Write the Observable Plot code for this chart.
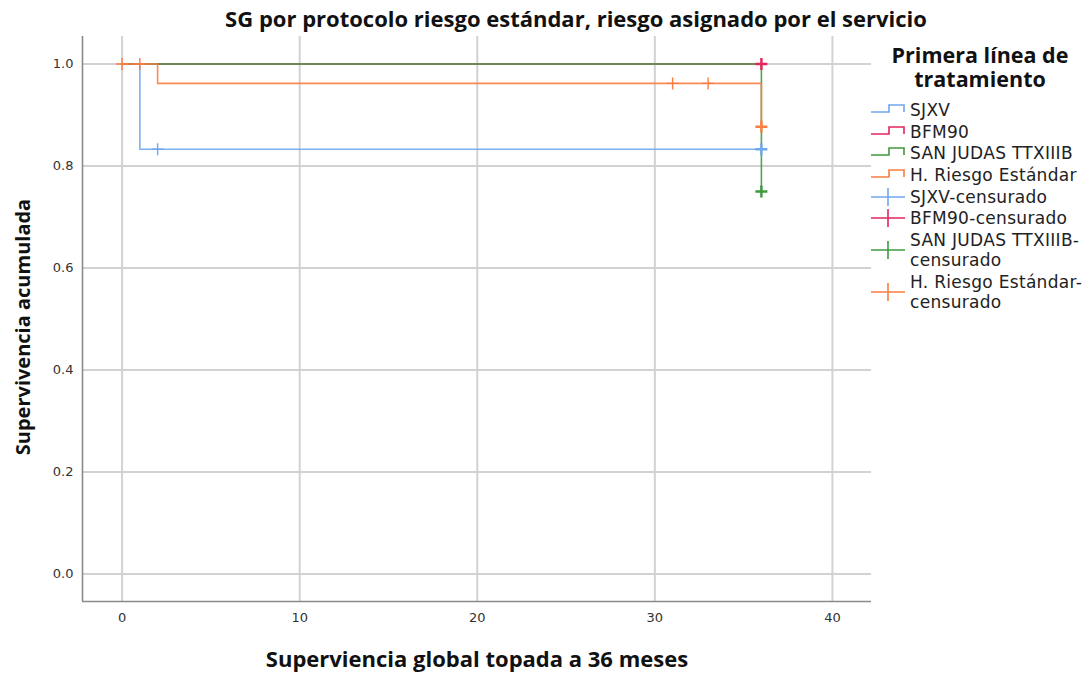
<!DOCTYPE html>
<html>
<head>
<meta charset="utf-8">
<script src="https://cdn.jsdelivr.net/npm/d3@7"></script>
<script src="https://cdn.jsdelivr.net/npm/@observablehq/plot@0.6"></script>
<style>
  html, body { margin: 0; padding: 0; background: #fff; }
  #wrap { position: relative; width: 1086px; height: 673px; overflow: hidden; font-family: "DejaVu Sans", sans-serif; }
  #chart { position: absolute; left: 0; top: 0; }
  .title { position: absolute; left: 576px; top: 3px; transform: translateX(-50%); white-space: nowrap;
           font: bold 22px "Open Sans", "Liberation Sans", Arial, sans-serif; color: #111; }
  .xlabel { position: absolute; left: 477px; top: 643px; transform: translateX(-50%); white-space: nowrap;
            font: bold 22px "Open Sans", "Liberation Sans", Arial, sans-serif; color: #111; }
  .ylabel { position: absolute; left: 22px; top: 327px; transform: translate(-50%, -50%) rotate(-90deg); white-space: nowrap;
            font: bold 20px "Open Sans", "Liberation Sans", Arial, sans-serif; color: #111; }
  .lt { position: absolute; left: 890px; width: 180px; text-align: center; white-space: nowrap;
        font: bold 21.5px "Open Sans", "Liberation Sans", Arial, sans-serif; line-height: 22px; height: 22px; color: #111; }
  #items { position: absolute; top: 100px; left: 870px; display: flex; flex-direction: column; row-gap: 1.7px; }
  #items .item { display: flex; align-items: center; font-family: "DejaVu Sans", sans-serif; font-size: 17px; letter-spacing: 0.3px; line-height: 20px; color: #222; white-space: nowrap; }
  #items .item svg { flex: none; margin-right: 2px; }
</style>
</head>
<body>
<div id="wrap">
  <div id="chart"></div>
  <div class="title">SG por protocolo riesgo estándar, riesgo asignado por el servicio</div>
  <div class="xlabel">Superviencia global topada a 36 meses</div>
  <div class="ylabel">Supervivencia acumulada</div>
  <div class="lt" style="top:44px">Primera línea de</div>
  <div class="lt" style="top:67.5px">tratamiento</div>
  <div id="items"></div>
</div>
<script>
// ---- data ----
const groups = ["SJXV", "BFM90", "SAN JUDAS TTXIIIB", "H. Riesgo Estándar"];
const colors = ["#6fa7ef", "#e5255b", "#3e9a3e", "#fb7d42"];

// step curves (time in months, cumulative survival)
const sjxvTime = [0, 1, 36];
const sjxvSurv = [1, 0.833, 0.833];
const bfmTime = [0, 36];
const bfmSurv = [1, 1];
const sanJudasTime = [0, 36, 36];
const sanJudasSurv = [1, 1, 0.75];
const riesgoTime = [0, 2, 36, 36];
const riesgoSurv = [1, 0.962, 0.962, 0.877];

// censored observations
const sjxvCensTime = [2, 36];
const sjxvCensSurv = [0.833, 0.833];
const bfmCensTime = [36];
const bfmCensSurv = [1];
const sanJudasCensTime = [36];
const sanJudasCensSurv = [0.75];
const riesgoCensTime = [0, 1, 31, 33, 36];
const riesgoCensSurv = [1, 1, 0.962, 0.962, 0.877];

const xTicks = [0, 10, 20, 30, 40];
const yTicks = [0, 0.2, 0.4, 0.6, 0.8, 1.0];
const xDomain = [-2.23, 42.2];
const yDomain = [-0.054, 1.054];

// ---- build tables ----
const times = [sjxvTime, bfmTime, sanJudasTime, riesgoTime];
const survs = [sjxvSurv, bfmSurv, sanJudasSurv, riesgoSurv];
const cTimes = [sjxvCensTime, bfmCensTime, sanJudasCensTime, riesgoCensTime];
const cSurvs = [sjxvCensSurv, bfmCensSurv, sanJudasCensSurv, riesgoCensSurv];

const lines = groups.flatMap((g, i) => times[i].map((t, j) => ({group: g, t, s: survs[i][j]})));
const cens = groups.flatMap((g, i) => cTimes[i].map((t, j) => ({group: g, t, s: cSurvs[i][j]})));

const plus = {
  draw(ctx, size) {
    const r = Math.sqrt(size / Math.PI);
    ctx.moveTo(-r, 0); ctx.lineTo(r, 0);
    ctx.moveTo(0, -r); ctx.lineTo(0, r);
  }
};

const chart = Plot.plot({
  width: 880,
  height: 673,
  marginTop: 36,
  marginBottom: 72,
  marginLeft: 82,
  marginRight: 9,
  style: {fontFamily: "DejaVu Sans, sans-serif", fontSize: "13px", color: "#333", background: "#fff"},
  x: {domain: xDomain, ticks: xTicks},
  y: {domain: yDomain, ticks: yTicks},
  color: {domain: groups, range: colors},
  marks: [
    Plot.gridX(xTicks, {stroke: "#d2d2d2", strokeOpacity: 1, strokeWidth: 2}),
    Plot.gridY(yTicks, {stroke: "#d2d2d2", strokeOpacity: 1, strokeWidth: 2}),
    Plot.axisX(xTicks, {tickSize: 0, tickPadding: 11, label: null, fill: "#333", fontSize: 13}),
    Plot.axisY(yTicks, {tickSize: 0, tickPadding: 9, label: null, tickFormat: d3.format(".1f"), fill: "#333", fontSize: 13}),
    Plot.ruleX([xDomain[0]], {stroke: "#8a8a8a", strokeWidth: 1.6}),
    Plot.ruleY([yDomain[0]], {stroke: "#8a8a8a", strokeWidth: 1.6}),
    Plot.line(lines, {x: "t", y: "s", z: "group", stroke: "group", curve: "step-after", strokeWidth: 1.6, strokeOpacity: 0.9}),
    Plot.dot(cens, {x: "t", y: "s", stroke: "group", fill: "none", symbol: plus, r: 6,
      strokeWidth: d => d.t === 36 ? 2.4 : 1.4})
  ]
});
document.getElementById("chart").appendChild(chart);

// ---- legend ----
const items = document.getElementById("items");
const stepIcon = c => `<svg width="38" height="20" viewBox="0 0 38 20"><polyline points="1,12 19,12 19,5 34,5 34,12" fill="none" stroke="${c}" stroke-width="1.6"/></svg>`;
const crossIcon = c => `<svg width="38" height="20" viewBox="0 0 38 20"><line x1="1" y1="10" x2="35" y2="10" stroke="${c}" stroke-width="1.6"/><line x1="18" y1="1" x2="18" y2="19" stroke="${c}" stroke-width="1.6"/></svg>`;
groups.forEach((g, i) => {
  const div = document.createElement("div");
  div.className = "item";
  div.innerHTML = stepIcon(colors[i]) + `<span>${g}</span>`;
  items.appendChild(div);
});
groups.forEach((g, i) => {
  const div = document.createElement("div");
  div.className = "item";
  const label = g.length > 10 ? `${g}-<br>censurado` : `${g}-censurado`;
  div.innerHTML = crossIcon(colors[i]) + `<span>${label}</span>`;
  items.appendChild(div);
});
</script>
</body>
</html>
